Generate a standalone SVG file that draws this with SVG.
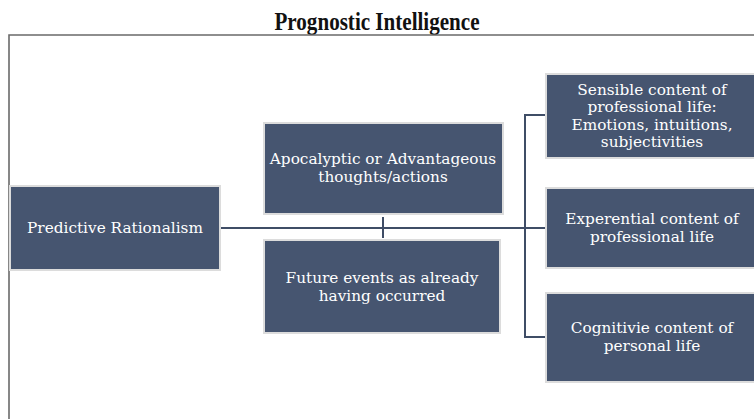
<svg xmlns="http://www.w3.org/2000/svg" width="754" height="419" viewBox="0 0 754 419">
<style>
.box{fill:#465570;stroke:#dcdcdc;stroke-width:2}
.t{font-family:"DejaVu Serif","Liberation Serif",serif;font-size:15.3px;fill:#ffffff;text-anchor:middle}
.c{fill:none;stroke:#3f4d66;stroke-width:2}
</style>
<rect x="0" y="0" width="754" height="419" fill="#ffffff"/>
<text x="377" y="30" font-family="Liberation Serif, DejaVu Serif, serif" font-size="25" font-weight="bold" text-anchor="middle" fill="#111" textLength="205" lengthAdjust="spacingAndGlyphs">Prognostic Intelligence</text>
<path d="M9,419 V35 H756" fill="none" stroke="#6a6a6a" stroke-width="1.6"/>
<g id="connectors">
<path class="c" d="M221,228 H546"/>
<path class="c" d="M383,217 V238"/>
<path class="c" d="M546,115 H525 V337 H546"/>
</g>
<g id="n1"><rect class="box" x="10" y="186" width="210" height="84"/><text class="t" x="115" y="233">Predictive Rationalism</text></g>
<g id="n2"><rect class="box" x="264" y="123" width="239" height="91"/><text class="t" x="383" y="164">Apocalyptic or Advantageous</text><text class="t" x="383" y="182">thoughts/actions</text></g>
<g id="n3"><rect class="box" x="264" y="240" width="236" height="93"/><text class="t" x="382" y="283">Future events as already</text><text class="t" x="382" y="301">having occurred</text></g>
<g id="n4"><rect class="box" x="546" y="74" width="212" height="84"/><text class="t" x="652" y="95">Sensible content of</text><text class="t" x="652" y="112">professional life:</text><text class="t" x="652" y="130">Emotions, intuitions,</text><text class="t" x="652" y="147">subjectivities</text></g>
<g id="n5"><rect class="box" x="546" y="188" width="212" height="80"/><text class="t" x="652" y="224">Experential content of</text><text class="t" x="652" y="242">professional life</text></g>
<g id="n6"><rect class="box" x="546" y="293" width="212" height="89"/><text class="t" x="652" y="333">Cognitivie content of</text><text class="t" x="652" y="351">personal life</text></g>
</svg>
